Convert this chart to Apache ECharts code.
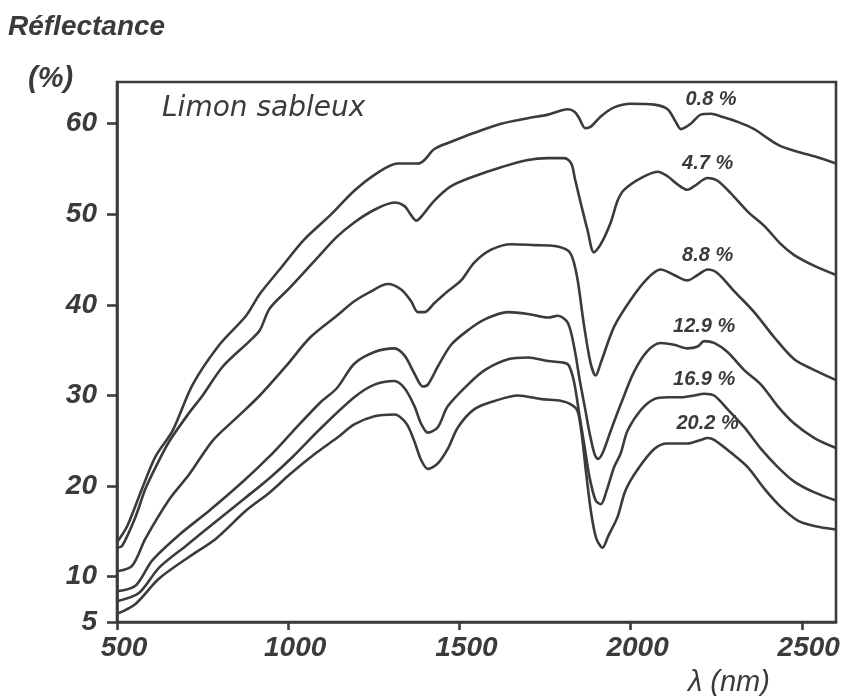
<!DOCTYPE html>
<html>
<head>
<meta charset="utf-8">
<script src="https://cdn.jsdelivr.net/npm/echarts@6/dist/echarts.min.js"></script>
<style>
html,body{margin:0;padding:0;background:#fff;}
#c{width:853px;height:696px;}
</style>
</head>
<body>
<div id="c"></div>
<script>
// ---- data ----
const xTicks = [500, 1000, 1500, 2000, 2500];
const yTicks = [5, 10, 20, 30, 40, 50, 60];
const seriesNames = ['0.8 %', '4.7 %', '8.8 %', '12.9 %', '16.9 %', '20.2 %'];

const wl_08 = [500,530,574,613,662,721,799,877,917,975,1044,1123,1193,1262,1320,1379,1398,1427,1476,1544,1622,1700,1759,1817,1837,1850,1868,1885,1913,1952,2001,2069,2108,2132,2147,2176,2205,2235,2264,2313,2361,2400,2434,2478,2537,2600];
const r_08  = [13.8,15.6,19.8,23.3,26.1,31.2,35.6,38.8,41.2,43.9,47.1,49.9,52.6,54.6,55.6,55.6,56.0,57.2,58.0,59.0,60.0,60.6,61.0,61.6,61.3,60.6,59.5,59.7,60.8,61.8,62.2,62.1,61.6,60.2,59.4,60.0,61.0,61.1,60.8,60.2,59.4,58.4,57.6,57.0,56.4,55.6];

const wl_47 = [500,515,554,583,613,652,711,750,809,887,917,946,1005,1083,1142,1193,1252,1310,1340,1359,1374,1388,1427,1476,1544,1622,1700,1759,1807,1827,1837,1856,1874,1893,1913,1942,1962,1981,2030,2079,2108,2137,2166,2186,2225,2254,2293,2342,2391,2439,2478,2537,2600];
const r_47  = [13.2,13.4,16.6,19.7,22.1,24.9,28.1,30.0,33.2,36.0,37.2,39.6,41.9,45.1,47.5,49.1,50.5,51.3,50.9,49.9,49.3,49.7,51.5,53.1,54.2,55.2,56.0,56.2,56.2,55.6,54.0,51.0,48.3,45.8,46.7,49.1,51.5,52.7,54.0,54.7,54.2,53.3,52.7,53.1,54.0,53.7,52.3,50.3,48.7,46.7,45.5,44.3,43.3];

const wl_88 = [500,544,583,652,711,779,848,917,995,1064,1142,1193,1242,1291,1330,1359,1379,1398,1427,1466,1505,1544,1593,1652,1720,1778,1817,1832,1846,1863,1883,1898,1913,1952,2001,2049,2088,2127,2166,2196,2225,2254,2303,2361,2420,2478,2537,2600];
const r_88  = [10.6,11.2,14.2,18.5,21.3,25.0,27.5,30.0,33.3,36.4,38.8,40.4,41.5,42.3,41.7,40.4,39.2,39.2,40.2,41.5,42.7,44.7,46.1,46.7,46.6,46.5,46.0,45.0,42.6,38.0,33.6,32.2,33.6,37.6,40.6,42.9,43.9,43.3,42.7,43.3,43.9,43.5,41.5,39.2,36.4,34.0,32.8,31.7];

const wl_129 = [500,554,603,681,770,868,946,1015,1093,1142,1193,1252,1310,1340,1369,1393,1408,1437,1476,1525,1574,1642,1700,1759,1788,1817,1837,1851,1866,1880,1895,1905,1920,1942,1971,2010,2049,2088,2127,2166,2196,2215,2244,2283,2332,2381,2430,2478,2537,2600];
const r_129  = [8.4,9.0,11.8,14.6,17.3,20.5,23.3,26.1,29.2,30.8,33.5,34.8,35.2,34.4,32.4,31.0,31.2,33.2,35.6,37.2,38.4,39.2,39.0,38.6,38.8,38.0,35.0,31.8,28.8,25.9,23.5,23.0,23.8,26.1,29.0,32.6,34.9,35.8,35.6,35.2,35.4,36.0,35.8,34.8,32.8,31.2,28.8,26.9,25.3,24.2];

const wl_169 = [500,564,623,701,779,868,946,1015,1093,1193,1252,1310,1340,1369,1388,1408,1437,1466,1525,1574,1642,1700,1759,1807,1820,1835,1850,1865,1880,1898,1913,1930,1952,1971,1991,2030,2069,2108,2147,2186,2215,2244,2283,2332,2381,2430,2478,2537,2600];
const r_169  = [7.3,8.2,11.0,13.4,15.8,18.5,20.9,23.3,26.3,29.8,31.2,31.6,30.8,28.8,26.9,25.9,26.5,28.8,31.2,32.8,34.0,34.2,33.8,33.6,33.3,31.5,28.0,24.5,21.0,18.4,18.0,19.5,22.1,23.6,26.1,28.4,29.6,29.8,29.8,30.0,30.2,30.0,28.5,26.5,24.1,22.1,20.5,19.3,18.4];

const wl_202 = [500,554,623,711,789,877,946,1005,1083,1142,1193,1252,1310,1345,1369,1388,1408,1437,1466,1496,1544,1603,1671,1739,1798,1827,1845,1858,1870,1885,1900,1918,1935,1962,1985,2020,2069,2108,2166,2205,2225,2244,2293,2342,2391,2439,2488,2537,2600];
const r_202  = [5.9,7.0,9.8,12.2,14.2,17.3,19.3,21.3,23.7,25.3,26.8,27.7,27.9,26.9,24.9,22.9,21.9,22.5,24.1,26.5,28.5,29.4,30.0,29.6,29.4,29.0,28.3,25.5,21.5,17.0,14.2,13.2,14.5,16.6,19.5,21.8,24.1,24.7,24.7,25.1,25.3,25.1,23.7,22.1,19.7,17.7,16.2,15.6,15.2];

const labelAt = 2225; // wavelength where each curve's label sits

// ---- chart ----
const INK = '#3b3b3b';
const FONT = "'Liberation Sans', Arial, sans-serif";
const curves = [[wl_08, r_08], [wl_47, r_47], [wl_88, r_88], [wl_129, r_129], [wl_169, r_169], [wl_202, r_202]];

function nearestIndex(arr, v) {
  let bi = 0;
  for (let i = 1; i < arr.length; i++) if (Math.abs(arr[i] - v) < Math.abs(arr[bi] - v)) bi = i;
  return bi;
}

const series = curves.map(function (c, k) {
  const wl = c[0], r = c[1];
  const idx = nearestIndex(wl, labelAt);
  return {
    name: seriesNames[k],
    type: 'line',
    data: wl.map(function (x, i) { return [x, r[i]]; }),
    showSymbol: false,
    smooth: 0.3,
    lineStyle: { color: INK, width: 2.6 },
    itemStyle: { color: INK },
    silent: true,
    markPoint: {
      symbol: 'circle',
      symbolSize: 1,
      itemStyle: { color: 'rgba(0,0,0,0)' },
      label: {
        show: true,
        position: 'top',
        distance: 4,
        formatter: seriesNames[k],
        color: INK,
        fontFamily: FONT,
        fontStyle: 'italic',
        fontWeight: 'bold',
        fontSize: 20
      },
      data: [{ coord: [wl[idx], r[idx]] }]
    }
  };
});

const axisCommon = {
  axisLine: { show: true, lineStyle: { color: INK, width: 2.6 } },
  splitLine: { show: false }
};

const plain = function (v) { return String(v); };

const option = {
  backgroundColor: '#ffffff',
  animation: false,
  grid: { left: 117, top: 82, width: 719, height: 540, show: true, borderColor: INK, borderWidth: 2.6, backgroundColor: 'transparent', containLabel: false },
  xAxis: Object.assign({
    type: 'value', min: 500, max: 2600,
    axisTick: { show: true, customValues: xTicks, length: 8, lineStyle: { color: INK, width: 2.6 } },
    axisLabel: { customValues: xTicks, formatter: plain, color: INK, fontFamily: FONT, fontStyle: 'italic', fontWeight: 'bold', fontSize: 28, margin: 12, padding: [0, 0, 0, 14] }
  }, axisCommon),
  yAxis: Object.assign({
    type: 'value', min: 5, max: 64.6,
    axisTick: { show: true, customValues: yTicks, length: 10, lineStyle: { color: INK, width: 2.6 } },
    axisLabel: { customValues: yTicks, formatter: plain, color: INK, fontFamily: FONT, fontStyle: 'italic', fontWeight: 'bold', fontSize: 28, margin: 20 }
  }, axisCommon),
  graphic: [
    { type: 'text', left: 8, top: 13, style: { text: 'Réflectance', fill: INK, font: "italic bold 28px 'Liberation Sans'" } },
    { type: 'text', left: 28, top: 64, style: { text: '(%)', fill: INK, font: "italic bold 29px 'Liberation Sans'" } },
    { type: 'text', left: 162, top: 95, style: { text: 'Limon sableux', fill: INK, font: "italic 28px 'DejaVu Sans'" } },
    { type: 'text', left: 688, top: 668, style: { text: 'λ (nm)', fill: INK, font: "italic 29px 'Liberation Sans'" } }
  ],
  series: series
};

const chart = echarts.init(document.getElementById('c'), null, { renderer: 'canvas', width: 853, height: 696 });
chart.setOption(option);
</script>
</body>
</html>
